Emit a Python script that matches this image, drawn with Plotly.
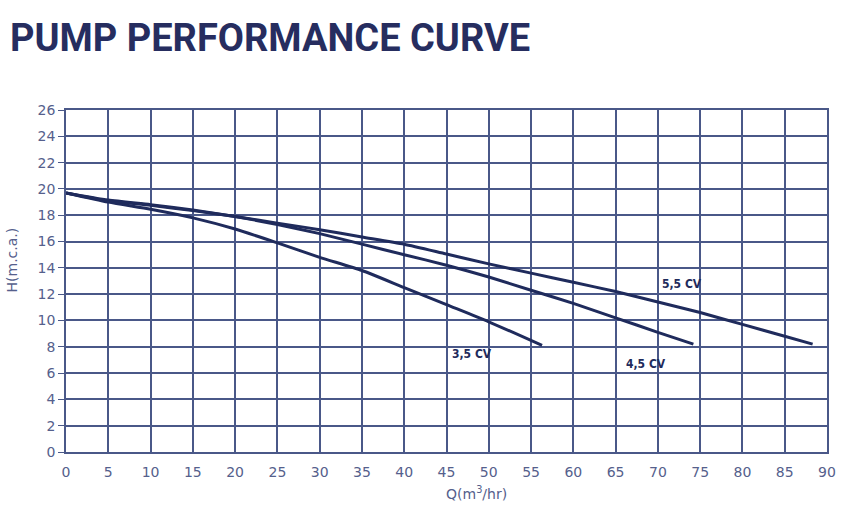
import plotly.graph_objects as go

# Data
q_35 = [0, 5, 10, 15, 20, 25, 30, 35, 40, 45, 50, 56.3]
h_35 = [19.7, 19.0, 18.45, 17.8, 16.95, 15.9, 14.8, 13.8, 12.5, 11.2, 9.9, 8.1]

q_45 = [0, 5, 10, 15, 20, 25, 30, 35, 40, 45, 50, 55, 60, 65, 70, 74.2]
h_45 = [19.7, 19.15, 18.8, 18.4, 17.9, 17.3, 16.6, 15.8, 15.0, 14.2, 13.3, 12.3, 11.3, 10.2, 9.1, 8.2]

q_55 = [0, 5, 10, 15, 20, 25, 30, 35, 40, 45, 50, 55, 60, 65, 70, 75, 80, 85, 88.3]
h_55 = [19.7, 19.1, 18.75, 18.35, 17.9, 17.4, 16.9, 16.35, 15.8, 15.05, 14.3, 13.6, 12.9, 12.2, 11.4, 10.6, 9.7, 8.8, 8.2]

curve_labels = ["3,5 CV", "4,5 CV", "5,5 CV"]
label_q = [48.0, 68.6, 72.8]
label_h = [7.45, 6.7, 12.8]

x_ticks = list(range(0, 95, 5))
y_ticks = list(range(0, 28, 2))

NAVY = "#1f2b5c"
GRID = "#4a5888"
TICK = "#55608c"
TICKFONT = "DejaVu Sans, sans-serif"

fig = go.Figure()
for q, h, name in zip([q_35, q_45, q_55], [h_35, h_45, h_55], curve_labels):
    fig.add_trace(go.Scatter(x=q, y=h, mode="lines", name=name,
                             line=dict(color=NAVY, width=3, shape="spline", smoothing=0.6)))

for t, xq, yh in zip(curve_labels, label_q, label_h):
    fig.add_annotation(x=xq, y=yh, text="<b>" + t + "</b>", showarrow=False,
                       font=dict(family="Liberation Sans Narrow, DejaVu Sans Condensed, Roboto, sans-serif",
                                 size=12, color=NAVY))

fig.add_annotation(xref="paper", yref="paper", x=0.0, y=1.0, xshift=-58, yshift=72,
                   xanchor="left", yanchor="middle", showarrow=False,
                   text="<b>PUMP PERFORMANCE CURVE</b>",
                   font=dict(family="Roboto, sans-serif", size=38, color="#262d5f"))

fig.add_annotation(xref="paper", yref="paper", x=0.539, y=0, yshift=-41,
                   xanchor="center", yanchor="middle",
                   showarrow=False, text="Q(m<sup>3</sup>/hr)",
                   font=dict(family=TICKFONT, size=14, color=TICK))

fig.add_annotation(xref="paper", yref="paper", x=0.0, y=0.56, xshift=-54,
                   xanchor="center", yanchor="middle", textangle=-90,
                   showarrow=False, text="H(m.c.a.)",
                   font=dict(family=TICKFONT, size=14, color=TICK))

fig.update_layout(
    width=846, height=507,
    margin=dict(l=66, r=19, t=110, b=55, autoexpand=False),
    paper_bgcolor="white", plot_bgcolor="white",
    showlegend=False,
    font=dict(family=TICKFONT, color=TICK, size=13),
)
fig.update_xaxes(range=[0, 90], tickvals=x_ticks, showgrid=True, gridcolor=GRID, gridwidth=1.5,
                 showline=True, mirror=True, linecolor=GRID, linewidth=1.5, automargin=False,
                 zeroline=False, ticks="", ticklabelstandoff=6,
                 tickfont=dict(size=14, color=TICK))
fig.update_yaxes(range=[0, 26], tickvals=y_ticks, showgrid=True, gridcolor=GRID, gridwidth=1.5,
                 showline=True, mirror=True, linecolor=GRID, linewidth=1.5, automargin=False,
                 zeroline=True, zerolinecolor="#2d3a6e", zerolinewidth=2.5,
                 ticks="outside", ticklen=6, tickcolor=GRID, tickwidth=1,
                 tickfont=dict(size=14, color=TICK))

# remove the default 8px page margin so the figure fills the window exactly
fig.write_html("out.html", config={"displayModeBar": False},
               post_script="document.body.style.margin='0px';document.body.style.overflow='hidden';")
